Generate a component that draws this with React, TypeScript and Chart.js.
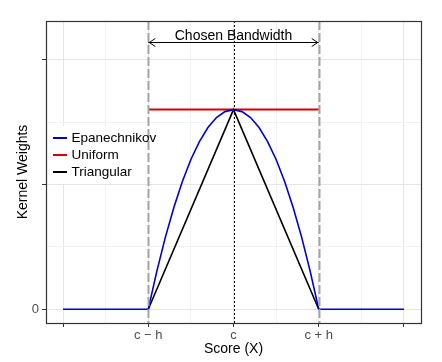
import React, { useEffect, useRef } from "react";
import { Chart, registerables } from "chart.js";

Chart.register(...registerables);

// ---- data ----
const epanX = [-2, -1, -0.9, -0.8, -0.7, -0.6, -0.5, -0.4, -0.3, -0.2, -0.1, 0, 0.1, 0.2, 0.3, 0.4, 0.5, 0.6, 0.7, 0.8, 0.9, 1, 2];
const epanY = [0, 0, 0.304, 0.576, 0.816, 1.024, 1.2, 1.344, 1.456, 1.536, 1.584, 1.6, 1.584, 1.536, 1.456, 1.344, 1.2, 1.024, 0.816, 0.576, 0.304, 0, 0];
const uniformX = [-1, 1];
const uniformY = [1.6, 1.6];
const triX = [-1, 0, 1];
const triY = [0, 1.6, 0];

const seriesNames = ["Epanechnikov", "Uniform", "Triangular"];
const seriesColors = ["#0000CD", "#D70000", "#000000"];

const xGridValues = [-2, -1.5, -1, -0.5, 0, 0.5, 1, 1.5, 2];
const xMajorValues = [-2, -1, 0, 1, 2];
const xMajorLabels = ["", "c \u2212 h", "c", "c + h", ""];
const yGridValues = [0, 0.5, 1, 1.5, 2];
const yMajorValues = [0, 1, 2];
const yMajorLabels = ["0", "", ""];

const bandEdges = [-1, 1];
const cutoff = 0;
const arrowLevel = 2.14;
const annotationText = "Chosen Bandwidth";
const xTitle = "Score (X)";
const yTitle = "Kernel Weights";

const FONT = "'Liberation Sans', Arial, sans-serif";

const isMajor = (list: number[], v: number) => list.some((m) => Math.abs(m - v) < 1e-9);

const annotationPlugin = {
  id: "annot",
  beforeDatasetsDraw(chart: any) {
    const ctx = chart.ctx;
    ctx.save();
    ctx.fillStyle = "#ffffff";
    ctx.fillRect(47, 126, 114, 58);
    ctx.restore();
  },
  afterDatasetsDraw(chart: any) {
    const ctx = chart.ctx;
    const xs = chart.scales.x;
    const ys = chart.scales.y;
    const area = chart.chartArea;
    ctx.save();
    // dashed bandwidth edges
    ctx.strokeStyle = "#a3a3a3";
    ctx.lineWidth = 2;
    ctx.setLineDash([9, 3]);
    bandEdges.forEach((b) => {
      const px = Math.round(xs.getPixelForValue(b)) + 0.5;
      ctx.beginPath();
      ctx.moveTo(px, area.top);
      ctx.lineTo(px, area.bottom);
      ctx.stroke();
    });
    // dotted cutoff
    ctx.strokeStyle = "#000000";
    ctx.lineWidth = 1;
    ctx.setLineDash([2, 2]);
    const cx = Math.round(xs.getPixelForValue(cutoff)) + 0.5;
    ctx.beginPath();
    ctx.moveTo(cx, area.top);
    ctx.lineTo(cx, area.bottom);
    ctx.stroke();
    ctx.setLineDash([]);

    // arrow
    const ay = Math.round(ys.getPixelForValue(arrowLevel)) + 0.5;
    const ax1 = xs.getPixelForValue(bandEdges[0]);
    const ax2 = xs.getPixelForValue(bandEdges[1]);
    ctx.strokeStyle = "#000000";
    ctx.lineWidth = 1;
    ctx.beginPath();
    ctx.moveTo(ax1, ay);
    ctx.lineTo(ax2, ay);
    ctx.stroke();
    ctx.beginPath();
    ctx.moveTo(ax1 + 7, ay - 4);
    ctx.lineTo(ax1 + 1, ay);
    ctx.lineTo(ax1 + 7, ay + 4);
    ctx.moveTo(ax2 - 7, ay - 4);
    ctx.lineTo(ax2 - 1, ay);
    ctx.lineTo(ax2 - 7, ay + 4);
    ctx.stroke();

    ctx.fillStyle = "#000000";
    ctx.font = `14px ${FONT}`;
    ctx.textAlign = "center";
    ctx.textBaseline = "alphabetic";
    ctx.fillText(annotationText, xs.getPixelForValue(cutoff), ay - 2.5);

    // legend
    const ly0 = 138;
    const lstep = 17;
    seriesNames.forEach((name, i) => {
      const y = ly0 + i * lstep;
      ctx.strokeStyle = seriesColors[i];
      ctx.lineWidth = 2;
      ctx.beginPath();
      ctx.moveTo(53, y);
      ctx.lineTo(67, y);
      ctx.stroke();
      ctx.fillStyle = "#000000";
      ctx.font = `13.5px ${FONT}`;
      ctx.textAlign = "left";
      ctx.textBaseline = "middle";
      ctx.fillText(name, 71.5, y + 0.5);
    });

    // panel border
    ctx.strokeStyle = "#333333";
    ctx.lineWidth = 1.2;
    ctx.strokeRect(area.left + 0.5, area.top + 0.5, area.right - area.left, area.bottom - area.top);
    ctx.restore();
  },
};

export default function App() {
  const ref = useRef<HTMLCanvasElement | null>(null);
  useEffect(() => {
    if (!ref.current) return;
    const chart = new Chart(ref.current, {
      type: "line",
      data: {
        datasets: [
          {
            label: seriesNames[0],
            data: epanX.map((x, i) => ({ x, y: epanY[i] })),
            borderColor: seriesColors[0],
            borderWidth: 1.6,
            pointRadius: 0,
            tension: 0,
            fill: false,
          },
          {
            label: seriesNames[1],
            data: uniformX.map((x, i) => ({ x, y: uniformY[i] })),
            borderColor: seriesColors[1],
            borderWidth: 2,
            pointRadius: 0,
            fill: false,
          },
          {
            label: seriesNames[2],
            data: triX.map((x, i) => ({ x, y: triY[i] })),
            borderColor: seriesColors[2],
            borderWidth: 1.6,
            pointRadius: 0,
            fill: false,
          },
        ],
      },
      options: {
        animation: false,
        responsive: false,
        maintainAspectRatio: false,
        layout: { padding: { top: 21, right: 21, left: 0, bottom: 0 } },
        plugins: { legend: { display: false }, tooltip: { enabled: false } },
        scales: {
          x: {
            type: "linear",
            min: -2.2,
            max: 2.2,
            afterBuildTicks: (s: any) => {
              s.ticks = xGridValues.map((v) => ({ value: v }));
            },
            afterFit: (s: any) => {
              s.height = 39;
            },
            border: { display: false },
            grid: {
              color: (c: any) => (isMajor(xMajorValues, c.tick.value) ? "#e6e6e6" : "#f2f2f2"),
              lineWidth: 1,
              tickLength: 4,
              tickColor: (c: any) => (isMajor(xMajorValues, c.tick.value) ? "#333333" : "rgba(0,0,0,0)"),
            },
            ticks: {
              autoSkip: false,
              maxRotation: 0,
              padding: 1,
              color: "#4d4d4d",
              font: { family: FONT, size: 13 },
              callback: (v: any) => {
                const idx = xMajorValues.findIndex((m) => Math.abs(m - v) < 1e-9);
                return idx >= 0 ? xMajorLabels[idx] : "";
              },
            },
            title: {
              display: true,
              text: xTitle,
              color: "#000000",
              font: { family: FONT, size: 14 },
              padding: { top: 0, bottom: 4 },
            },
          },
          y: {
            type: "linear",
            min: -0.11,
            max: 2.31,
            afterBuildTicks: (s: any) => {
              s.ticks = yGridValues.map((v) => ({ value: v }));
            },
            afterFit: (s: any) => {
              s.width = 46;
            },
            border: { display: false },
            grid: {
              color: (c: any) => (isMajor(yMajorValues, c.tick.value) ? "#e6e6e6" : "#f2f2f2"),
              lineWidth: 1,
              tickLength: 4,
              tickColor: (c: any) => (isMajor(yMajorValues, c.tick.value) ? "#333333" : "rgba(0,0,0,0)"),
            },
            ticks: {
              autoSkip: false,
              padding: 3,
              color: "#4d4d4d",
              font: { family: FONT, size: 13 },
              callback: (v: any) => {
                const idx = yMajorValues.findIndex((m) => Math.abs(m - v) < 1e-9);
                return idx >= 0 ? yMajorLabels[idx] : "";
              },
            },
            title: {
              display: true,
              text: yTitle,
              color: "#000000",
              font: { family: FONT, size: 14 },
              padding: { top: 15, bottom: 0 },
            },
          },
        },
      },
      plugins: [annotationPlugin],
    } as any);
    return () => chart.destroy();
  }, []);
  return (
    <div style={{ position: "absolute", left: 0, top: 0, width: 442, height: 362, background: "#ffffff" }}>
      <canvas ref={ref} width={442} height={362} style={{ width: 442, height: 362 }} />
    </div>
  );
}
